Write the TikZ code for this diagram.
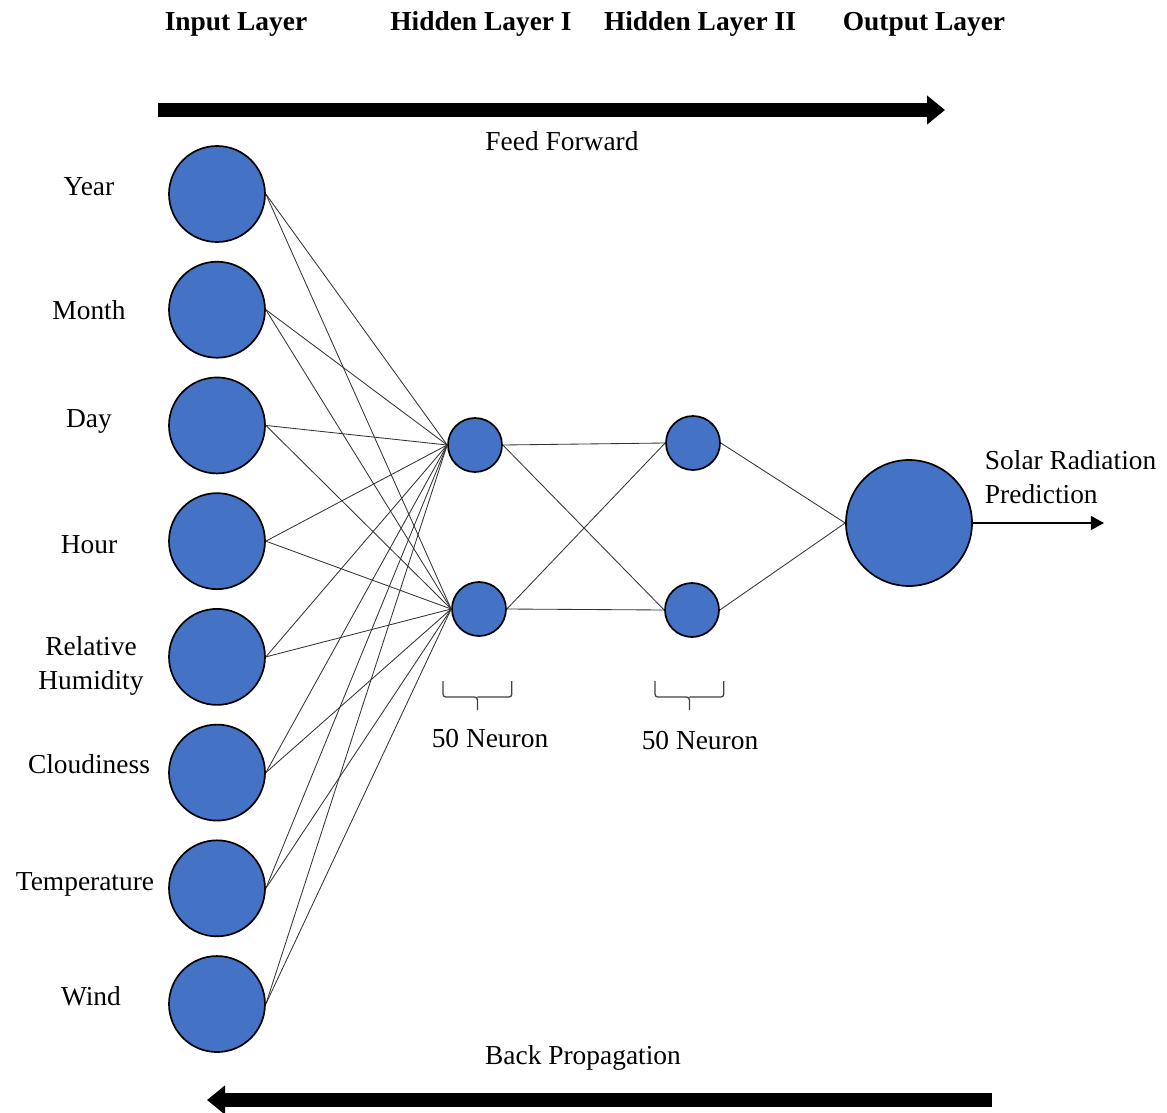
\documentclass[tikz,border=0pt]{standalone}
\usepackage{fontspec}
\setmainfont{Liberation Serif}
\usetikzlibrary{arrows,arrows.meta,positioning}
\definecolor{neuronblue}{HTML}{4472C4}

\begin{document}
\begin{tikzpicture}[font=\fontsize{19.5}{24}\selectfont, node distance=2.893cm,
	neuron/.style={circle,fill=neuronblue,draw=black,line width=1.2pt,inner sep=0pt},
	inputneuron/.style={neuron,minimum size=2.4cm},
	hiddenneuron/.style={neuron,minimum size=1.35cm},
	outputneuron/.style={neuron,minimum size=3.15cm},
	layertitle/.style={font=\fontsize{19.5}{24}\selectfont\bfseries},
	bigarrow/.style={line width=0.35cm,-{Triangle[length=0.45cm,width=0.7cm]}},
	neuronbrace/.style={draw=black!75,line width=0.9pt,rounded corners=2pt}]
	\tikzstyle{synapse}=[draw=black!80,line width=0.6pt]
	\useasboundingbox (0,0) rectangle (29.175,-27.825);

	% layer titles
	\node[layertitle] (intitle)  at (5.9,-0.6)    {Input Layer};
	\node[layertitle] (h1title)  at (12.025,-0.6) {Hidden Layer I};
	\node[layertitle] (h2title)  at (17.5,-0.6)   {Hidden Layer II};
	\node[layertitle] (outtitle) at (23.1,-0.6)   {Output Layer};

	% input layer
	\node[inputneuron] (year) at (5.425,-4.85) {};
	\node[inputneuron] (month)    [below of=year]     {};
	\node[inputneuron] (day)      [below of=month]    {};
	\node[inputneuron] (hour)     [below of=day]      {};
	\node[inputneuron] (humidity) [below of=hour]     {};
	\node[inputneuron] (cloud)    [below of=humidity] {};
	\node[inputneuron] (temp)     [below of=cloud]    {};
	\node[inputneuron] (wind)     [below of=temp]     {};

	\node (yearlbl)  [left of=year, node distance=3.2cm, yshift=0.18cm]   {Year};
	\node (monthlbl) [left of=month, node distance=3.2cm]                  {Month};
	\node (daylbl)   [left of=day, node distance=3.2cm, yshift=0.1cm]     {Day};
	\node (hourlbl)  [left of=hour, node distance=3.2cm, yshift=-0.08cm]  {Hour};
	\node (humlbl)   [left of=humidity, node distance=3.15cm, yshift=-0.22cm, align=center] {Relative\\Humidity};
	\node (cloudlbl) [left of=cloud, node distance=3.2cm, yshift=0.2cm]   {Cloudiness};
	\node (templbl)  [left of=temp, node distance=3.3cm, yshift=0.1cm]    {Temperature};
	\node (windlbl)  [left of=wind, node distance=3.15cm, yshift=0.2cm]   {Wind};

	% hidden and output layers
	\node[hiddenneuron] (h1) at (11.875,-11.125) {};
	\node[hiddenneuron] (h2) at (11.975,-15.225) {};
	\node[hiddenneuron] (g1) at (17.325,-11.075) {};
	\node[hiddenneuron] (g2) at (17.3,-15.25)    {};
	\node[outputneuron] (out) at (22.725,-13.075) {};

	\foreach \i in {year,month,day,hour,humidity,cloud,temp,wind}
		\path[synapse] (\i.east) edge (h1.west) (\i.east) edge (h2.west);
	\foreach \h in {h1,h2}
		\path[synapse] (\h.east) edge (g1.west) (\h.east) edge (g2.west);
	\path[synapse] (g1.east) edge (out.west) (g2.east) edge (out.west);

	% output
	\coordinate (predend) at (27.6,-13.075);
	\draw[line width=1.3pt,-{Triangle[length=0.33cm,width=0.35cm]}] (out.east) -- (predend);
	\node (predlbl) [anchor=west, align=left] at (24.5,-11.925) {Solar Radiation\\Prediction};

	% neuron counts
	\coordinate (b1l) at (11.075,-17.025);
	\coordinate (b2l) at (16.375,-17.025);
	\foreach \b in {b1l,b2l}
		\draw[neuronbrace] (\b) -- ++(0,-0.4) -- ++(0.86,0) -- ++(0,-0.33) ++(0,0.33) -- ++(0.86,0) -- ++(0,0.4);
	\node (n1lbl) at (12.25,-18.475) {50 Neuron};
	\node (n2lbl) at (17.5,-18.525)  {50 Neuron};

	% training direction
	\coordinate (ffstart) at (3.95,-2.75);  \coordinate (ffend) at (23.625,-2.75);
	\coordinate (bpstart) at (24.8,-27.5);  \coordinate (bpend) at (5.175,-27.5);
	\draw[bigarrow] (ffstart) -- (ffend);
	\draw[bigarrow] (bpstart) -- (bpend);
	\node (fflbl) at (14.05,-3.525) {Feed Forward};
	\node (bplbl) at (14.575,-26.45) {Back Propagation};
\end{tikzpicture}
\end{document}
